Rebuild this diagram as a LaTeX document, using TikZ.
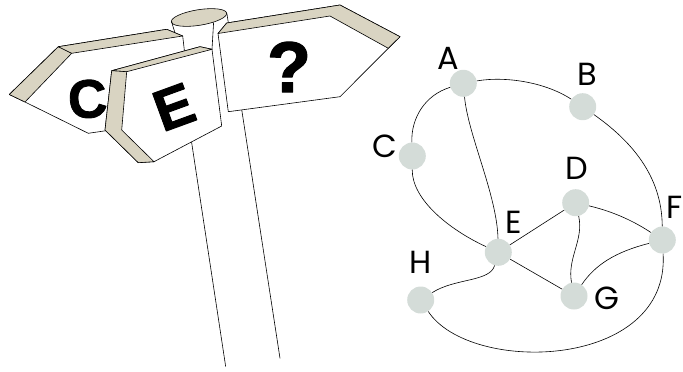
\documentclass[tikz,border=0pt]{standalone}
\usepackage{fontspec}
\setmainfont{Liberation Sans}
\newfontfamily\signfont[BoldFeatures={FakeBold=1.6}]{Liberation Sans}
\newfontfamily\labelfont{Poppins}
\definecolor{bevel}{RGB}{217,212,194}
\definecolor{vertex}{RGB}{212,220,216}
\begin{document}
\begin{tikzpicture}[x=1pt,y=-1pt,line join=round,
  board/.style={draw=black,line width=0.6pt,fill=white},
  bevelface/.style={draw=black,line width=0.6pt,fill=bevel},
  poleline/.style={line width=0.6pt},
  signtext/.style={font=\signfont\fontsize{54}{54}\selectfont\bfseries,inner sep=0pt},
  vtx/.style={circle,fill=vertex,minimum size=27pt,inner sep=0pt},
  vlabel/.style={font=\labelfont\fontsize{32}{32}\selectfont,inner sep=0pt},
  edge/.style={line width=0.6pt}]
\useasboundingbox (0,0) rectangle (683,372);

% the post and its cap
\draw[poleline,fill=bevel,rotate around={9:(199,17.5)}] (199,17.5) ellipse [x radius=28,y radius=7.8];
\draw[poleline] (171.7,21.5) .. controls (172.5,26) and (174,29) .. (175,33) -- (225.7,366.7);
\draw[poleline] (226.9,13.5) -- (280,358.3);
\draw[poleline] (213.6,22.5) -- (212,49.3);

% board pointing left: C
\path[board] (9.3,94.5) -- (58.3,46.7) -- (166.7,29.3) -- (182.7,36) -- (185,56) -- (175,120) -- (150,124.3) -- (104,131) -- (88.3,133.3) -- (25,102) -- cycle;
\path[bevelface] (9.3,94.5) -- (58.3,46.7) -- (71.7,53.3) -- (25,102) -- cycle;
\path[bevelface] (58.3,46.7) -- (166.7,29.3) -- (182.7,36) -- (71.7,53.3) -- cycle;
\node[signtext,rotate=4] (letterC) at (87.5,99) {C};

% board pointing down-left: E
\path[board] (111.7,70.7) -- (200,46.7) -- (212,49.3) -- (221.7,126) -- (154,161.7) -- (138.3,162.7) -- (105,130) -- cycle;
\path[bevelface] (111.7,70.7) -- (200,46.7) -- (212,49.3) -- (126.7,71.7) -- cycle;
\path[bevelface] (111.7,70.7) -- (126.7,71.7) -- (121.7,130) -- (154,161.7) -- (138.3,162.7) -- (105,130) -- cycle;
\node[signtext,font=\signfont\fontsize{58}{58}\selectfont\bfseries,rotate=20] (letterE) at (174,107) {E};

% board pointing right: ?
\path[board] (218,33.5) -- (226.7,23) -- (340,5) -- (400,36.7) -- (388.3,48.3) -- (340,96.7) -- (228.3,111.7) -- cycle;
\path[bevelface] (218,33.5) -- (226.7,23) -- (340,5) -- (400,36.7) -- (388.3,48.3) -- (330,16) -- cycle;
\node[signtext,font=\signfont\fontsize{72}{72}\selectfont\bfseries] (letterQ) at (289,67) {?};

% graph vertices
\node[vtx] (vA) at (463.3,83.3) {};
\node[vtx] (vB) at (582.7,106.7) {};
\node[vtx] (vC) at (412.3,156) {};
\node[vtx] (vD) at (575.7,202.7) {};
\node[vtx] (vE) at (498.3,252.3) {};
\node[vtx] (vF) at (662.3,240) {};
\node[vtx] (vG) at (574,296) {};
\node[vtx] (vH) at (420.7,300) {};

% vertex names
\node[vlabel] (lA) at (448.5,58) {A};
\node[vlabel] (lB) at (587.7,74) {B};
\node[vlabel] (lC) at (385,146) {C};
\node[vlabel] (lD) at (576.7,168) {D};
\node[vlabel] (lE) at (513.3,222) {E};
\node[vlabel,anchor=east] (lF) at (683,207) {F};
\node[vlabel] (lG) at (607,298) {G};
\node[vlabel] (lH) at (421,262) {H};

% graph edges
\draw[edge] (vA) .. controls (505,76) and (545,82) .. (vB);
\draw[edge] (vA) .. controls (425,95) and (411,118) .. (vC);
\draw[edge] (vA) .. controls (468,135) and (497,195) .. (vE);
\draw[edge] (vC) .. controls (412,200) and (450,230) .. (vE);
\draw[edge] (vB) .. controls (630,140) and (662,175) .. (vF);
\draw[edge] (vD) -- (vE);
\draw[edge] (vD) .. controls (615,212) and (635,222) .. (vF);
\draw[edge] (vD) .. controls (584,240) and (567,258) .. (vG);
\draw[edge] (vE) -- (vG);
\draw[edge] (vF) .. controls (615,252) and (595,265) .. (vG);
\draw[edge] (vE) .. controls (490,282) and (455,278) .. (vH);
\draw[edge] (vF) .. controls (670,370) and (470,375) .. (vH);
\end{tikzpicture}
\end{document}
